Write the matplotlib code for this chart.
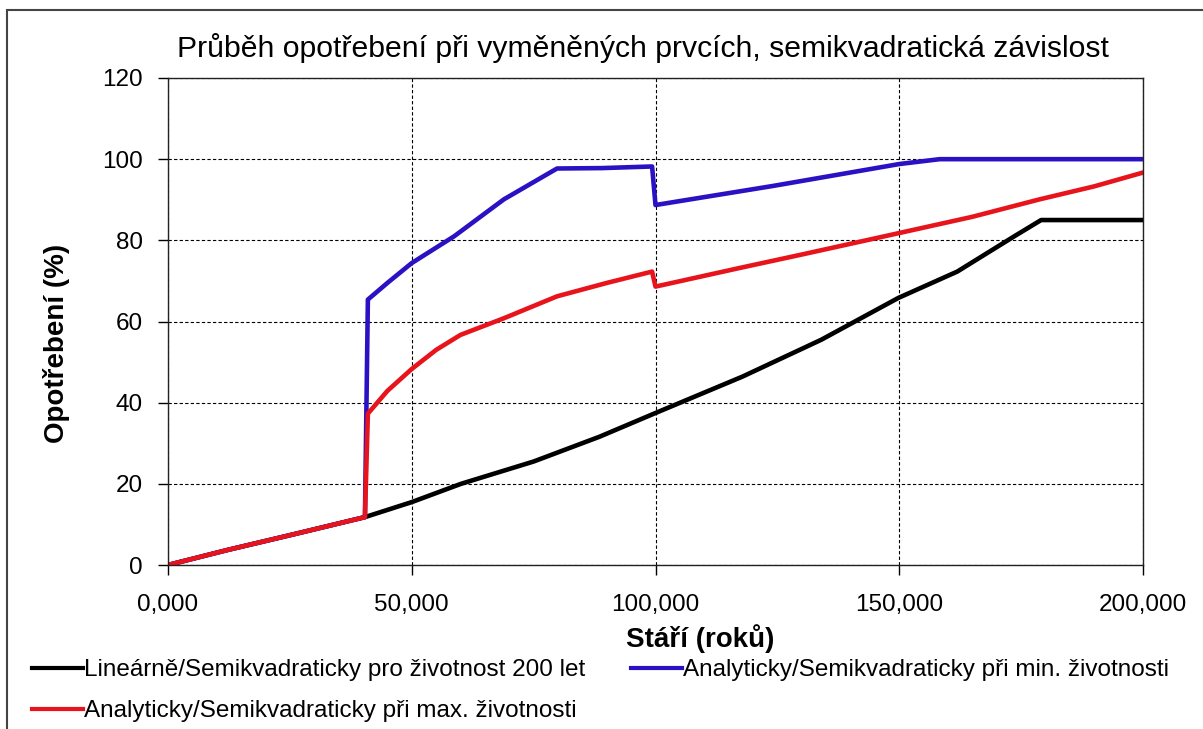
import matplotlib
matplotlib.use("Agg")
import matplotlib.pyplot as plt
from matplotlib import font_manager
from matplotlib.patches import Rectangle
from matplotlib.ticker import FuncFormatter, MultipleLocator

# age in years, wear in %
lin_x = [0, 12.2, 25.9, 40.4, 50, 60.1, 75, 88.5, 99.9, 117.8, 134, 149.8, 161.9, 173.6, 179.1, 200]
lin_y = [0, 3.7, 7.6, 11.8, 15.5, 20, 25.5, 31.6, 37.4, 46.4, 55.5, 65.8, 72.3, 81.0, 85, 85]

min_x = [0, 12.2, 25.9, 40.4, 41.0, 45.0, 50.0, 58.7, 68.9, 79.8, 89.0, 99.3, 100.0, 124.1, 150.0, 158.3, 200]
min_y = [0, 3.7, 7.6, 11.8, 65.4, 69.5, 74.4, 81.0, 90.1, 97.7, 97.8, 98.2, 88.7, 93.4, 98.8, 100, 100]

max_x = [0, 12.2, 25.9, 40.4, 41.0, 45.0, 50.0, 55.0, 60.0, 68.9, 79.8, 90.0, 99.3, 100.0, 117.3, 130.0, 150.0, 165.0, 178.8, 190.0, 200]
max_y = [0, 3.7, 7.6, 11.8, 37.3, 42.9, 48.3, 53.0, 56.7, 60.8, 66.2, 69.5, 72.3, 68.6, 73.2, 76.5, 81.8, 85.8, 90.1, 93.3, 96.7]

labels = [
    "Lineárně/Semikvadraticky pro životnost 200 let",
    "Analyticky/Semikvadraticky při min. životnosti",
    "Analyticky/Semikvadraticky při max. životnosti",
]
title = "Průběh opotřebení při vyměněných prvcích, semikvadratická závislost"

installed = {f.name for f in font_manager.fontManager.ttflist}
if "Liberation Sans Narrow" in installed:
    legend_font, legend_size = "Liberation Sans Narrow", 21
else:
    legend_font, legend_size = "Liberation Sans", 17.5

plt.rcParams["font.family"] = ["Liberation Sans", "DejaVu Sans"]

W, H = 1203, 729
fig = plt.figure(figsize=(W / 100, H / 100), dpi=100)
fig.patch.set_facecolor("white")

# outer chart frame (runs off the right and bottom edge)
fig.patches.append(Rectangle((7 / W, -0.1), 1.2, 1 - 10 / H + 0.1, transform=fig.transFigure,
                             fill=False, edgecolor="#444444", linewidth=1.5))

ax = fig.add_axes([168 / W, 1 - 565 / H, (1143 - 168) / W, (565 - 78) / H])

l1, = ax.plot(lin_x, lin_y, color="black", linewidth=3.3)
l2, = ax.plot(min_x, min_y, color="#2a12c4", linewidth=3.3)
l3, = ax.plot(max_x, max_y, color="#e8141c", linewidth=3.3)

ax.set_xlim(0, 200)
ax.set_ylim(0, 120)
ax.xaxis.set_major_locator(MultipleLocator(50))
ax.yaxis.set_major_locator(MultipleLocator(20))
ax.xaxis.set_major_formatter(FuncFormatter(lambda v, p: f"{v:.3f}".replace(".", ",")))
ax.yaxis.set_major_formatter(FuncFormatter(lambda v, p: f"{v:.0f}"))
ax.tick_params(axis="both", direction="out", length=7, width=1, labelsize=17.5, color="black")
ax.tick_params(axis="y", pad=11)
ax.tick_params(axis="x", pad=14)
ax.grid(True, color="black", linestyle=(0, (3, 2)), linewidth=0.8)
ax.set_axisbelow(True)
for s in ax.spines.values():
    s.set_color("#222222")
    s.set_linewidth(1.0)

fig.text(643 / W, 1 - 57 / H, title, ha="center", va="baseline", fontsize=21.7)
fig.text(700 / W, 1 - 647 / H, "Stáří (roků)", ha="center", va="baseline", fontsize=20, fontweight="bold")
fig.text(57 / W, 1 - 343 / H, "Opotřebení (%)", ha="center", va="center", rotation=90,
         fontsize=20, fontweight="bold")

leg = fig.legend([l1, l3, l2], [labels[0], labels[2], labels[1]], ncol=2, frameon=False,
                 loc="upper left", bbox_to_anchor=(32 / W, 1 - 659 / H),
                 borderaxespad=0, borderpad=0, handlelength=36.7 / legend_size,
                 handletextpad=0.05, columnspacing=33 / legend_size, labelspacing=0.8,
                 prop={"family": [legend_font, "DejaVu Sans"], "size": legend_size})
for h in leg.get_lines():
    h.set_linewidth(3.0)

fig.savefig("out.png", dpi=100, facecolor="white")
